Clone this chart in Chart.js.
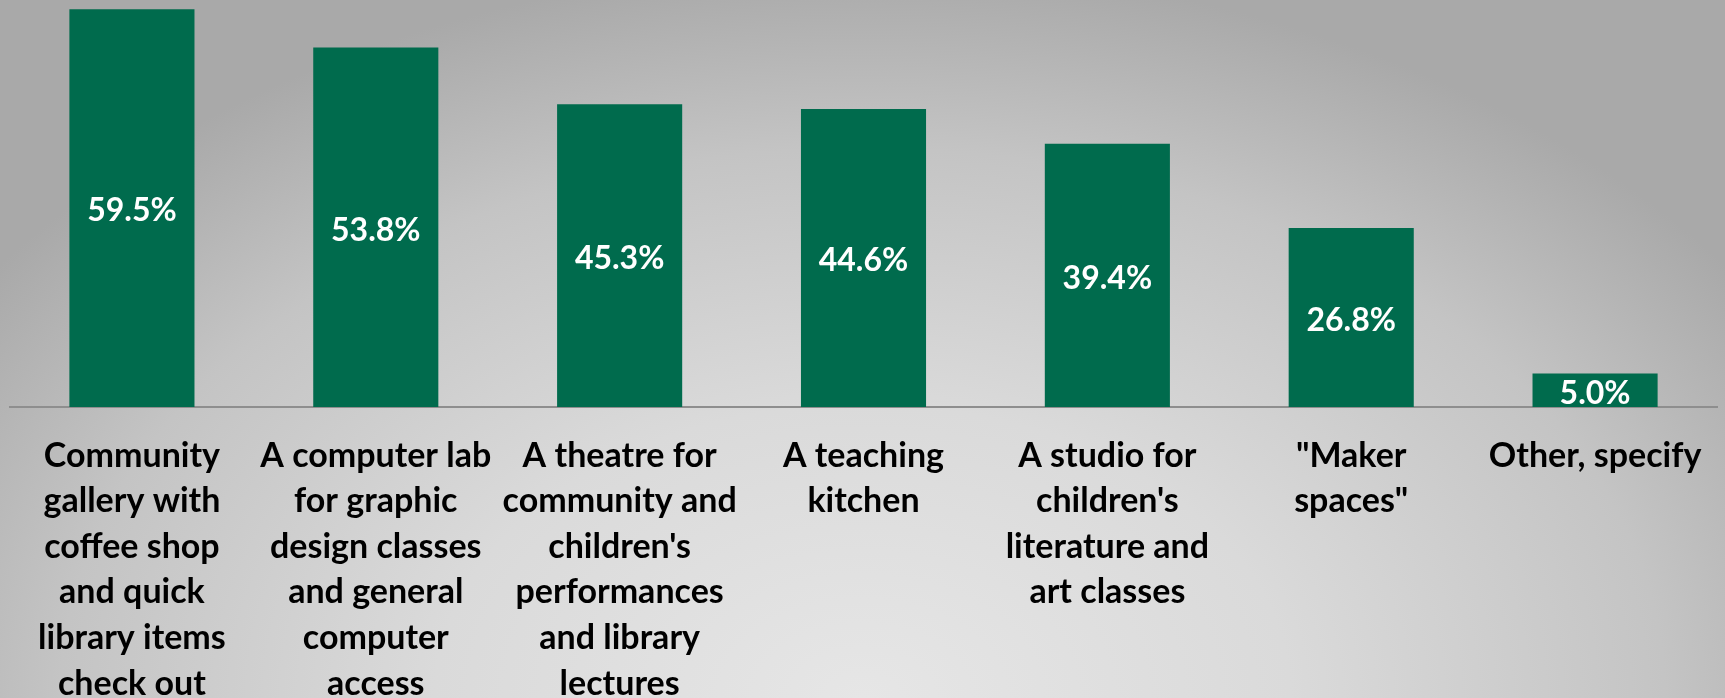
<!DOCTYPE html>
<html>
<head>
<meta charset="utf-8">
<script src="https://cdn.jsdelivr.net/npm/chart.js@4/dist/chart.umd.min.js"></script>
<style>
    html, body { margin: 0; padding: 0; }
    body {
        width: 1725px; height: 698px; overflow: hidden;
        background: radial-gradient(ellipse 62% 105% at 50% 100%, #e6e6e6 0%, #dadada 40%, #c4c4c4 75%, #a9a9a9 100%);
    }
    canvas { display: block; }
</style>
</head>
<body>
<canvas id="chart" width="1725" height="698"></canvas>
<script>
const categories = [
    ["Community", "gallery with", "coffee shop", "and quick", "library items", "check out"],
    ["A computer lab", "for graphic", "design classes", "and general", "computer", "access"],
    ["A theatre for", "community and", "children's", "performances", "and library", "lectures"],
    ["A teaching", "kitchen"],
    ["A studio for", "children's", "literature and", "art classes"],
    ["\"Maker", "spaces\""],
    ["Other, specify"]
];
const values = [59.5, 53.8, 45.3, 44.6, 39.4, 26.8, 5.0];

const barColor = "#006b4d";
const fontFamily = "Lato, 'Open Sans', sans-serif";

// value labels drawn in the middle of each bar
const barLabels = {
    id: "barLabels",
    afterDatasetsDraw(chart) {
        const ctx = chart.ctx;
        const meta = chart.getDatasetMeta(0);
        ctx.save();
        ctx.fillStyle = "#ffffff";
        ctx.font = "bold 32px " + fontFamily;
        ctx.textAlign = "center";
        ctx.textBaseline = "middle";
        meta.data.forEach((bar, i) => {
            const y = (bar.y + bar.base) / 2;
            ctx.fillText(values[i].toFixed(1) + "%", bar.x, y + 3);
        });
        ctx.restore();
    }
};

const ctx = document.getElementById("chart").getContext("2d");
new Chart(ctx, {
    type: "bar",
    data: {
        labels: categories,
        datasets: [{
            data: values,
            backgroundColor: barColor,
            borderWidth: 0,
            categoryPercentage: 1,
            barPercentage: 0.513
        }]
    },
    options: {
        responsive: false,
        animation: false,
        layout: { padding: { top: 6, left: 10, right: 8, bottom: 0 } },
        plugins: { legend: { display: false }, tooltip: { enabled: false } },
        scales: {
            x: {
                grid: { display: false, drawTicks: false },
                border: { display: true, color: "#8e8e8e", width: 2 },
                ticks: {
                    color: "#000000",
                    font: { family: fontFamily, size: 34, weight: "bold", lineHeight: 1.34 },
                    padding: 26,
                    autoSkip: false,
                    maxRotation: 0,
                    minRotation: 0
                },
                afterFit(scale) {
                    scale.height = 291;
                    scale.paddingLeft = 0;
                    scale.paddingRight = 0;
                }
            },
            y: {
                display: false,
                min: 0,
                max: 60
            }
        }
    },
    plugins: [barLabels]
});
</script>
</body>
</html>
